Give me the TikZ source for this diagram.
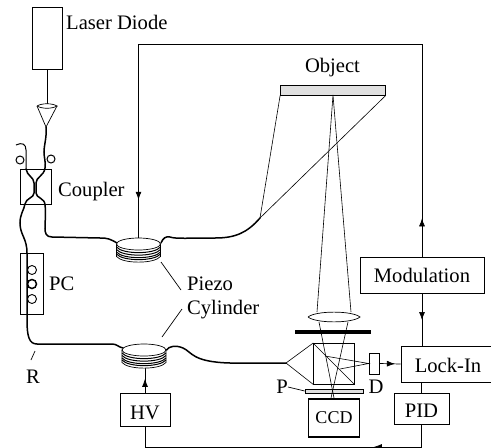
\documentclass[tikz,border=0pt]{standalone}
\usepackage{fontspec}
\setmainfont{Liberation Serif}
\usetikzlibrary{arrows.meta,decorations.markings}
\begin{document}
\begin{tikzpicture}[x=1pt,y=-1pt,
  every node/.style={font=\fontsize{20.6}{22}\selectfont,inner sep=0pt},
  thin line/.style={line width=0.7pt},
  fiber/.style={line width=1.5pt,line cap=round},
  ray/.style={line width=0.6pt},
  arrowat/.style={postaction={decorate},decoration={markings,mark=at position #1 with {\arrow{Latex[length=8pt,width=6pt]}}}}]
\useasboundingbox (0,0) rectangle (491,448);
% Boxes
\node[draw,line width=1pt,minimum width=30pt,minimum height=62pt] (laser) at (47,38) {};
\node[anchor=base west] (laserl) at (66,29) {Laser Diode};
\node[draw,thin line,minimum width=31pt,minimum height=35pt] (coupler) at (35.5,186.5) {};
\node[anchor=base west] (couplerl) at (58,196) {Coupler};
\node[draw,thin line,minimum width=23pt,minimum height=61pt] (pc) at (31.5,283.5) {};
\node[anchor=base west] (pcl) at (49,290) {PC};
\node[anchor=base] (rl) at (33,383) {R};
\node[anchor=base west] (piezol) at (187,290) {Piezo};
\node[anchor=base west] (cyll) at (187,314) {Cylinder};
\node[anchor=base] (objl) at (332.5,72) {Object};
\node[draw,thin line,fill=black!12,minimum width=105pt,minimum height=10pt] (obj) at (333,90) {};
\node[draw,thin line,text height=14pt,text depth=0pt,minimum width=124pt,minimum height=36pt] (mod) at (422,275) {Modulation};
\node[draw,thin line,text height=16pt,text depth=0pt,minimum width=90pt,minimum height=36pt] (lock) at (446,364) {\kern4pt Lock-In};
\node[draw,thin line,text height=17pt,text depth=0pt,minimum width=55pt,minimum height=31pt] (pid) at (421.5,408.5) {PID};
\node[draw,thin line,text height=19pt,text depth=0pt,minimum width=50pt,minimum height=33pt] (hv) at (145,409.5) {HV};
\node[draw,line width=1.4pt,text height=10pt,text depth=0pt,minimum width=51pt,minimum height=38pt] (ccd) at (334,418) {\fontsize{18}{20}\selectfont CCD};
\node[draw,thin line,minimum width=40.5pt,minimum height=40.5pt] (cube) at (333.7,363.7) {};
\node[draw,thin line,minimum width=10pt,minimum height=21pt] (det) at (374,363.5) {};
\node[draw,thin line,fill=black!12,minimum width=58pt,minimum height=4pt] (pol) at (334,391) {};
\node[anchor=base] (pl) at (282,393) {P};
\node[anchor=base] (dl) at (376,393) {D};
% named points
\coordinate (tl) at (138.5,44);
\coordinate (tr) at (422,44);
\coordinate (bl) at (145,447);
\coordinate (br) at (421.5,447);
\coordinate (up) at (138.5,239);
\coordinate (lowb) at (145,365);
\coordinate (tip) at (46,127);
\coordinate (lensc) at (47,106);
\coordinate (fibend) at (286,363);
\coordinate (split) at (260,218);
\coordinate (objc) at (333,95);
\coordinate (pz1) at (161,262);
\coordinate (pz1e) at (181,290);
\coordinate (pz2) at (162,337);
\coordinate (pz2e) at (182,309);
\coordinate (r1) at (35,351);
\coordinate (r2) at (31,360);
\coordinate (p1) at (288,387);
% Feedback lines
\draw[thin line,arrowat=0.918] (tr) -- (tl) -- (up);
\draw[thin line,arrowat=0.18] (mod.north -| tr) -- (tr);
\draw[thin line,arrowat=0.51] (mod.south -| tr) -- (lock.north -| tr);
\draw[thin line] (lock.south -| pid) -- (pid.north);
\draw[thin line,arrowat=0.22] (pid.south) -- (br) -- (bl) -- (hv.south);
\draw[thin line,arrowat=0.5] (hv.north) -- (lowb);
\draw[thin line,arrowat=0.73] (det.east) -- (lock.west);
% Laser to lens
\draw[thin line] (laser.south) -- (lensc);
\draw[thin line] (37,106) -- (tip) -- (57,106);
\draw[thin line,fill=white] (37,106) .. controls (42,103) and (52,103) .. (57,106) .. controls (52,109) and (42,109) .. (37,106);
% Fibers
\draw[fiber] (tip) .. controls (47,137) and (44,145) .. (44,152) .. controls (44,158) and (46,162) .. (45,168)
  .. controls (44,176) and (36,177) .. (36,183) -- (36,193) .. controls (36,198) and (45,198) .. (45,205)
  .. controls (46,212) and (45,222) .. (45,228) .. controls (45,233) and (46,237) .. (52,237)
  -- (100,238) .. controls (108,238) and (110,239) .. (117,243);
\draw[fiber] (26,169) .. controls (27,176) and (34,177) .. (34,183) -- (34,193) .. controls (34,198) and (26,198) .. (25,204)
  .. controls (24,210) and (20,214) .. (20,223) .. controls (20,235) and (27,238) .. (27,253)
  -- (27,320) .. controls (27,336) and (29,344) .. (37,344) -- (112,344) .. controls (117,344) and (118,347) .. (123,348);
\draw[line width=1pt] (26,169) -- (26,150) .. controls (26,144) and (22,142) .. (16,145);
\draw[line width=1pt] (20,160) circle[radius=4];
\draw[line width=1pt] (51,159) circle[radius=4];
% PC loops
\draw[line width=0.9pt] (32,270) circle[radius=4.5] (32,299) circle[radius=4.5];
\draw[line width=1.5pt] (32,284) circle[radius=4.5];
% Upper fibre to object
\draw[fiber] (161,243) .. controls (163,238) and (166,236) .. (170,237) .. controls (175,239) and (190,238) .. (215,238)
  .. controls (235,238) and (247,233) .. (split);
\draw[ray] (split) -- (obj.south west);
\draw[ray] (split) -- (obj.south east);
% Lower fibre to cone
\draw[fiber] (166.5,350) .. controls (169,346) and (176,345) .. (183,348) .. controls (192,352) and (192,362) .. (230,363) -- (fibend);
% Piezos
\foreach \cx/\ty in {138.5/244,144/350}{
  \draw[thin line,fill=white] (\cx-22,\ty) -- (\cx-22,\ty+12.5) .. controls (\cx-16,\ty+20) and (\cx+16,\ty+20) .. (\cx+22,\ty+12.5) -- (\cx+22,\ty) -- cycle;
  \foreach \d in {3,5.5,8,10}
    \draw[line width=1pt] (\cx-22,\ty+\d) .. controls (\cx-16,\ty+\d+7.5) and (\cx+16,\ty+\d+7.5) .. (\cx+22,\ty+\d);
  \draw[thin line,fill=white] (\cx,\ty) ellipse[x radius=22,y radius=6];
}
% Pointers
\draw[thin line] (pz1) -- (pz1e);
\draw[thin line] (pz2) -- (pz2e);
\draw[thin line] (r1) -- (r2);
\draw[thin line] (p1) -- (pol.west);
% Optics
\draw[ray] (objc) -- (317,312) (objc) -- (351,312);
\draw[line width=3.2pt] (295,332) -- (371,332);
\draw[ray] (319,322) -- (334,398);
\draw[ray] (348,322) -- (331,398);
\draw[thin line,fill=white] (308,317) .. controls (316,310.5) and (352,310.5) .. (360,317) .. controls (352,323.5) and (316,323.5) .. (308,317);
\draw[ray] (fibend) -- (cube.north west) (fibend) -- (cube.south west);
\draw[ray] (cube.north west) -- (cube.south east);
\draw[ray] (325,356) -- (det.west) -- (340,369);
\draw[line width=2.4pt] (322,399) -- (347,399);
\end{tikzpicture}
\end{document}
